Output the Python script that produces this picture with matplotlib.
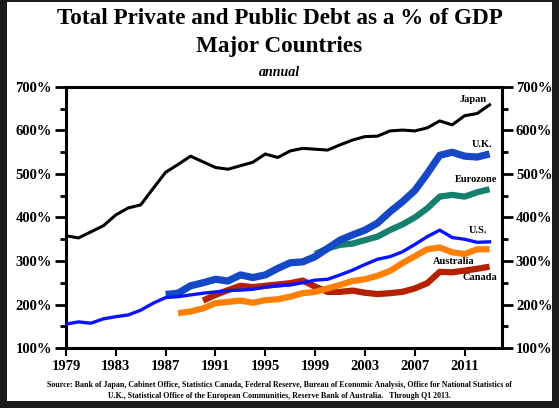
import numpy as np
import matplotlib
matplotlib.use("Agg")
import matplotlib.pyplot as plt
from matplotlib.patches import Rectangle
from matplotlib.ticker import MultipleLocator, FixedLocator, FuncFormatter

plt.rcParams['font.family'] = ['Liberation Serif', 'DejaVu Serif']

# Данные (% от ВВП)
years_japan = np.arange(1979, 2014)
japan = [358, 353, 367, 381, 406, 422, 429, 467, 504, 522, 541, 528, 515, 511, 519,
         527, 546, 538, 553, 559, 557, 555, 567, 578, 586, 587, 599, 601, 599, 606,
         622, 613, 634, 639, 659]

years_us = np.arange(1979, 2014)
us = [155, 160, 157, 167, 172, 176, 187, 203, 216, 218, 222, 226, 229, 232, 233,
      235, 240, 243, 245, 250, 256, 258, 268, 279, 292, 304, 310, 321, 338, 356,
      371, 354, 350, 343, 344]

years_uk = np.arange(1987, 2014)
uk = [223, 226, 243, 250, 258, 254, 268, 262, 268, 283, 296, 298, 310, 329, 348,
      360, 371, 387, 413, 436, 462, 501, 543, 550, 541, 539, 546]

years_euro = np.arange(1999, 2014)
eurozone = [316, 329, 337, 340, 348, 356, 371, 384, 400, 421, 448, 452, 448, 458, 465]

years_canada = np.arange(1990, 2014)
canada = [209, 222, 233, 243, 240, 243, 246, 249, 255, 241, 229, 229, 232, 227, 224,
          226, 229, 237, 249, 275, 274, 278, 282, 287]

years_aus = np.arange(1988, 2014)
australia = [180, 184, 191, 203, 206, 209, 204, 210, 212, 218, 226, 229, 237, 245,
             254, 258, 266, 277, 295, 311, 327, 331, 320, 316, 327, 327]

x_ticks = [1979, 1983, 1987, 1991, 1995, 1999, 2003, 2007, 2011]

# Подписи серий: (текст, год правого края, значение)
labels = [("Japan", 2012.8, 672), ("U.K.", 2013.2, 567), ("Eurozone", 2013.6, 488),
          ("U.S.", 2012.8, 370), ("Australia", 2011.8, 298), ("Canada", 2013.6, 261)]

fig = plt.figure(figsize=(5.59, 4.08), dpi=100)
fig.patch.set_facecolor("#1c1c1c")
fig.patches.append(Rectangle((7 / 559, 7 / 408), 545 / 559, 399 / 408,
                             transform=fig.transFigure, facecolor="white",
                             edgecolor="none", zorder=-5))

ax = fig.add_axes([66 / 559, 60 / 408, 436 / 559, 261 / 408])
ax.set_zorder(2)

ax.plot(years_japan, japan, color="black", lw=2.2, zorder=3)
ax.plot(years_canada, canada, color="#b52000", lw=4.5, zorder=3, solid_capstyle="butt")
ax.plot(years_aus, australia, color="#ff8000", lw=4.5, zorder=4, solid_capstyle="butt")
ax.plot(years_euro, eurozone, color="#15806f", lw=4.5, zorder=4, solid_capstyle="butt")
ax.plot(years_uk, uk, color="#1448c4", lw=5.2, zorder=4, solid_capstyle="butt")
ax.plot(years_us, us, color="#0a14ff", lw=2.4, zorder=5)

for txt, x, y in labels:
    ax.text(x, y, txt, ha="right", va="center", fontsize=7.5, fontweight="bold", zorder=6)

ax.set_xlim(1979, 2014)
ax.set_ylim(100, 700)
ax.xaxis.set_major_locator(FixedLocator(x_ticks))
ax.yaxis.set_major_locator(MultipleLocator(100))
ax.yaxis.set_minor_locator(MultipleLocator(50))
ax.yaxis.set_major_formatter(FuncFormatter(lambda v, p: f"{v:.0f}%"))
ax.xaxis.set_major_formatter(FuncFormatter(lambda v, p: f"{v:.0f}"))

ax.tick_params(axis="y", which="major", direction="out", length=8, width=2,
               left=True, right=True, labelleft=True, labelright=True,
               labelsize=10.5, pad=2)
ax.tick_params(axis="y", which="minor", direction="out", length=4, width=2,
               left=True, right=True)
ax.tick_params(axis="x", which="major", direction="out", length=6, width=1.5,
               labelsize=10.5, pad=3)
for lab in ax.get_xticklabels() + ax.get_yticklabels():
    lab.set_fontweight("bold")
for lab in ax.yaxis.get_ticklabels(which="major"):
    lab.set_fontweight("bold")
for s in ax.spines.values():
    s.set_linewidth(2.2)

fig.text(0.5, 0.955, "Total Private and Public Debt as a % of GDP", ha="center",
         va="center", fontsize=16.7, fontweight="bold")
fig.text(0.5, 0.885, "Major Countries", ha="center", va="center",
         fontsize=16.7, fontweight="bold")
fig.text(0.5, 0.823, "annual", ha="center", va="center", fontsize=10,
         fontstyle="italic", fontweight="bold")

fig.text(0.5, 0.057, "Source: Bank of Japan, Cabinet Office, Statistics Canada, Federal Reserve, "
         "Bureau of Economic Analysis, Office for National Statistics of", ha="center",
         va="center", fontsize=5.7, fontweight="bold")
fig.text(0.5, 0.030, "U.K., Statistical Office of the European Communities, Reserve Bank of "
         "Australia.   Through Q1 2013.", ha="center", va="center", fontsize=5.7,
         fontweight="bold")

fig.savefig("out.png", dpi=100, facecolor=fig.get_facecolor())
